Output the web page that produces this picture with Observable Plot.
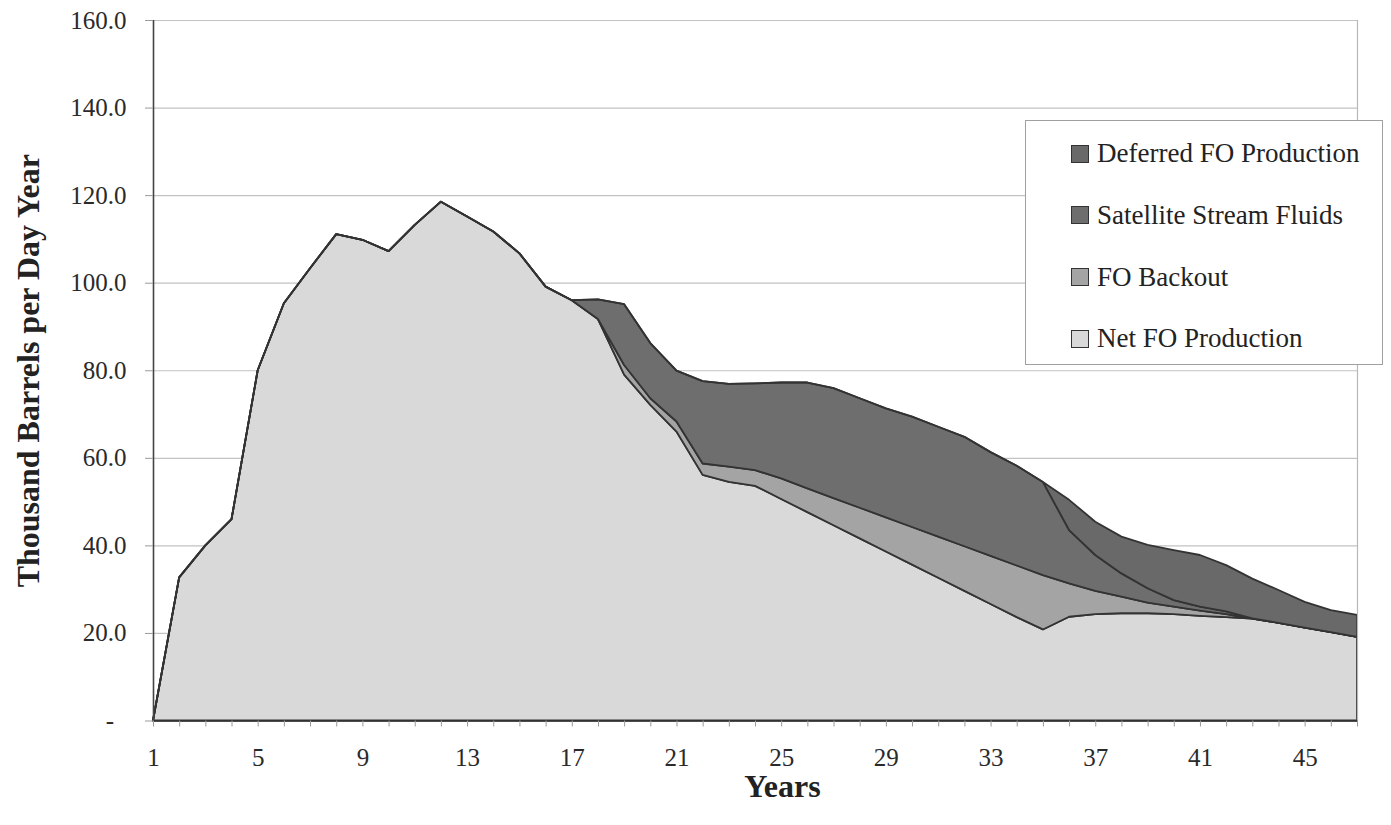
<!DOCTYPE html>
<html>
<head>
<meta charset="utf-8">
<script src="https://cdn.jsdelivr.net/npm/d3@7"></script>
<script src="https://cdn.jsdelivr.net/npm/@observablehq/plot@0.6"></script>
<style>
  html, body { margin: 0; padding: 0; background: #ffffff; }
  #wrap { position: relative; width: 1391px; height: 825px; }
  #wrap svg { display: block; }
  #legend {
    position: absolute; left: 1025px; top: 120px; width: 356px; height: 243px;
    border: 1px solid #a0a0a0; background: #ffffff;
    font-family: "Liberation Serif", "Times New Roman", serif; font-size: 27px; color: #222;
  }
  .row { position: absolute; left: 45px; height: 30px; display: flex; align-items: center; white-space: nowrap; }
  .sw { width: 16px; height: 16px; border: 1px solid #333; margin-right: 8px; flex: none; }
</style>
</head>
<body>
<div id="wrap"></div>
<script>
// ---- data ----
const years = [1,2,3,4,5,6,7,8,9,10,11,12,13,14,15,16,17,18,19,20,21,22,23,24,25,26,27,28,29,30,31,32,33,34,35,36,37,38,39,40,41,42,43,44,45,46,47];
const xTickLabels = [1,5,9,13,17,21,25,29,33,37,41,45];
const yTicks = [0,20,40,60,80,100,120,140,160];

const netFO = [0,32.7,40.0,46.0,80.0,95.3,103.3,111.1,109.8,107.2,113.2,118.5,115.1,111.7,106.7,99.1,96.0,91.7,79.0,72.1,66.0,56.1,54.5,53.6,50.6,47.6,44.6,41.6,38.6,35.6,32.6,29.6,26.6,23.6,20.8,23.7,24.3,24.5,24.5,24.3,23.9,23.6,23.3,22.3,21.2,20.2,19.1];
const foBackout = [0,0,0,0,0,0,0,0,0,0,0,0,0,0,0,0,0,0,2.2,1.5,2.3,2.6,3.5,3.6,4.7,5.4,6.2,7.0,7.8,8.6,9.4,10.2,11.0,11.8,12.4,7.6,5.3,3.8,2.4,1.7,1.2,0.7,0,0,0,0,0];
const satellite = [0,0,0,0,0,0,0,0,0,0,0,0,0,0,0,0,0,4.5,13.9,12.6,11.6,18.8,18.9,19.8,21.9,24.2,25.1,25.0,24.9,25.2,25.1,25.0,23.7,22.8,21.3,12.2,8.2,5.3,3.3,1.5,0.9,0.6,0,0,0,0,0];
const deferredFO = [0,0,0,0,0,0,0,0,0,0,0,0,0,0,0,0,0,0,0,0,0,0,0,0,0,0,0,0,0,0,0,0,0,0,0,6.9,7.6,8.4,9.9,11.4,11.8,10.6,9.1,7.5,5.9,5.0,5.0];

const seriesNames = ["Net FO Production", "FO Backout", "Satellite Stream Fluids", "Deferred FO Production"];
const seriesValues = [netFO, foBackout, satellite, deferredFO];
const legendOrder = ["Deferred FO Production", "Satellite Stream Fluids", "FO Backout", "Net FO Production"];

// ---- styles ----
const seriesColors = ["#d9d9d9", "#a4a4a4", "#6e6e6e", "#696969"];
const font = "'Liberation Serif', 'Times New Roman', serif";

const table = [];
seriesNames.forEach((name, s) => {
  years.forEach((yr, i) => table.push({year: yr, value: seriesValues[s][i], series: name}));
});

const chart = Plot.plot({
  width: 1391,
  height: 825,
  marginLeft: 153,
  marginRight: 34,
  marginTop: 20,
  marginBottom: 104.5,
  style: {fontFamily: font, fontSize: "25px", background: "#ffffff", color: "#222"},
  x: {type: "linear", domain: [1, 47]},
  y: {domain: [0, 160]},
  color: {domain: seriesNames, range: seriesColors},
  marks: [
    Plot.gridY({ticks: yTicks.filter(d => d > 0), stroke: "#c2c2c2", strokeOpacity: 1, strokeWidth: 1.2}),
    Plot.areaY(table, Plot.stackY({order: null}, {
      x: "year", y: "value", z: "series", fill: "series",
      stroke: "#333", strokeWidth: 1.8, strokeLinejoin: "round"
    })),
    Plot.ruleX([47], {stroke: "#b8b8b8", strokeWidth: 1.2}),
    Plot.ruleX([1], {stroke: "#444", strokeWidth: 1.6}),
    Plot.ruleY([0], {stroke: "#333", strokeWidth: 1.6}),
    Plot.axisY({
      ticks: yTicks, tickSize: 8, tickPadding: 19, stroke: "#9a9a9a", fill: "#2a2a2a",
      fontSize: 25, label: null,
      tickFormat: d => d === 0 ? "-\u2007" : d.toFixed(1)
    }),
    Plot.axisX({
      ticks: years, tickSize: 6, tickPadding: 21, stroke: "#9a9a9a", fill: "#2a2a2a",
      fontSize: 25, label: null,
      tickFormat: d => xTickLabels.includes(d) ? String(d) : ""
    }),
    Plot.text(["Thousand Barrels per Day Year"], {
      frameAnchor: "left", dx: -125, rotate: -90,
      textAnchor: "middle", lineAnchor: "middle",
      fontWeight: "bold", fontSize: 32, fill: "#222"
    }),
    Plot.text(["Years"], {
      frameAnchor: "bottom", dx: 27, dy: 66,
      textAnchor: "middle", lineAnchor: "middle",
      fontWeight: "bold", fontSize: 32, fill: "#222"
    })
  ]
});

const wrap = document.getElementById("wrap");
wrap.appendChild(chart);

// legend
const legend = document.createElement("div");
legend.id = "legend";
const rowCenters = [32.5, 94, 156, 217.5];
legendOrder.forEach((name, i) => {
  const row = document.createElement("div");
  row.className = "row";
  row.style.top = (rowCenters[i] - 15) + "px";
  const sw = document.createElement("span");
  sw.className = "sw";
  sw.style.background = seriesColors[seriesNames.indexOf(name)];
  const label = document.createElement("span");
  label.textContent = name;
  row.appendChild(sw);
  row.appendChild(label);
  legend.appendChild(row);
});
wrap.appendChild(legend);
</script>
</body>
</html>
